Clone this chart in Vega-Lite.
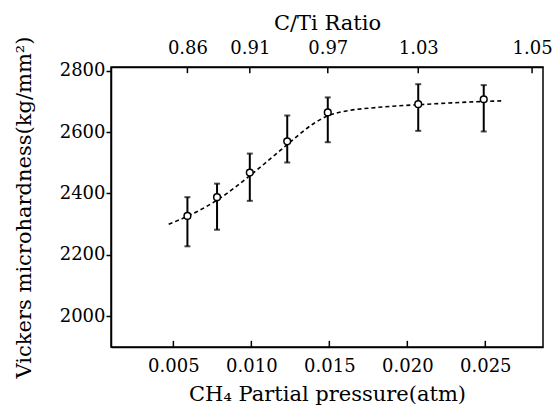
{
  "$schema": "https://vega.github.io/schema/vega-lite/v6.json",
  "width": 432,
  "height": 280,
  "autosize": {"type": "none"},
  "padding": {"left": 111, "top": 67, "right": 9, "bottom": 59},
  "background": "white",
  "config": {
    "view": {"stroke": "black", "strokeWidth": 1.5},
    "font": "DejaVu Serif",
    "axis": {
      "grid": false,
      "domainColor": "black",
      "domainWidth": 1.5,
      "tickColor": "black",
      "tickWidth": 1.5,
      "labelColor": "black",
      "titleColor": "black",
      "labelFont": "DejaVu Serif",
      "titleFont": "DejaVu Serif",
      "labelFontSize": 18,
      "titleFontSize": 21,
      "titleFontWeight": "normal"
    }
  },
  "datasets": {
    "curve": [
      {"p": 0.0047, "hv": 2300},
      {"p": 0.006, "hv": 2328},
      {"p": 0.008, "hv": 2385},
      {"p": 0.010, "hv": 2462},
      {"p": 0.0115, "hv": 2525},
      {"p": 0.0125, "hv": 2568},
      {"p": 0.014, "hv": 2628},
      {"p": 0.015, "hv": 2655},
      {"p": 0.016, "hv": 2668},
      {"p": 0.018, "hv": 2680},
      {"p": 0.021, "hv": 2690},
      {"p": 0.025, "hv": 2700},
      {"p": 0.0262, "hv": 2702}
    ],
    "pts": [
      {"p": 0.0059, "hv": 2327, "lo": 2228, "hi": 2388},
      {"p": 0.0078, "hv": 2388, "lo": 2282, "hi": 2432},
      {"p": 0.0099, "hv": 2468, "lo": 2376, "hi": 2530},
      {"p": 0.0123, "hv": 2570, "lo": 2501, "hi": 2654},
      {"p": 0.0149, "hv": 2664, "lo": 2567, "hi": 2713},
      {"p": 0.0207, "hv": 2691, "lo": 2604, "hi": 2756},
      {"p": 0.0249, "hv": 2707, "lo": 2602, "hi": 2753}
    ],
    "bottomTicks": [{"t": 0.005}, {"t": 0.01}, {"t": 0.015}, {"t": 0.02}, {"t": 0.025}],
    "topTicks": [{"t": 0.0059}, {"t": 0.0099}, {"t": 0.0149}, {"t": 0.0207}, {"t": 0.028}]
  },
  "resolve": {"axis": {"x": "independent"}},
  "layer": [
    {
      "data": {"name": "curve"},
      "mark": {"type": "line", "color": "black", "strokeWidth": 1.6, "strokeDash": [4, 3], "interpolate": "monotone"},
      "encoding": {
        "x": {
          "field": "p", "type": "quantitative",
          "scale": {"domain": [0.001, 0.0287], "nice": false, "zero": false},
          "axis": {
            "orient": "bottom",
            "values": [0.005, 0.01, 0.015, 0.02, 0.025],
            "format": ".3f",
            "ticks": false,
            "labelPadding": 10,
            "title": "CH₄ Partial pressure(atm)",
            "titlePadding": 8
          }
        },
        "y": {
          "field": "hv", "type": "quantitative",
          "scale": {"domain": [1900, 2812], "nice": false, "zero": false},
          "axis": {
            "values": [2000, 2200, 2400, 2600, 2800],
            "format": "d",
            "tickSize": 5,
            "labelPadding": 1,
            "title": "Vickers microhardness(kg/mm²)",
            "titlePadding": 25
          }
        }
      }
    },
    {
      "data": {"name": "bottomTicks"},
      "mark": {"type": "rule", "color": "black", "strokeWidth": 1.5},
      "encoding": {
        "x": {"field": "t", "type": "quantitative", "axis": null},
        "y": {"datum": 1900, "type": "quantitative"},
        "y2": {"datum": 1920}
      }
    },
    {
      "data": {"name": "topTicks"},
      "mark": {"type": "rule", "color": "black", "strokeWidth": 1.5},
      "encoding": {
        "x": {"field": "t", "type": "quantitative", "axis": null},
        "y": {"datum": 2792, "type": "quantitative"},
        "y2": {"datum": 2812}
      }
    },
    {
      "data": {"name": "pts"},
      "mark": {"type": "rule", "color": "black", "strokeWidth": 2},
      "encoding": {
        "x": {"field": "p", "type": "quantitative", "axis": null},
        "y": {"field": "lo", "type": "quantitative"},
        "y2": {"field": "hi"}
      }
    },
    {
      "data": {"name": "pts"},
      "mark": {"type": "tick", "color": "black", "orient": "horizontal", "size": 6, "thickness": 2},
      "encoding": {
        "x": {"field": "p", "type": "quantitative", "axis": null},
        "y": {"field": "lo", "type": "quantitative"}
      }
    },
    {
      "data": {"name": "pts"},
      "mark": {"type": "tick", "color": "black", "orient": "horizontal", "size": 6, "thickness": 2},
      "encoding": {
        "x": {"field": "p", "type": "quantitative", "axis": null},
        "y": {"field": "hi", "type": "quantitative"}
      }
    },
    {
      "data": {"name": "pts"},
      "mark": {"type": "point", "shape": "circle", "filled": true, "fill": "white", "stroke": "black", "strokeWidth": 1.5, "size": 45, "opacity": 1},
      "encoding": {
        "x": {
          "field": "p", "type": "quantitative",
          "axis": {
            "orient": "top",
            "values": [0.0059, 0.0099, 0.0149, 0.0207, 0.028],
            "labelExpr": "datum.value < 0.007 ? '0.86' : datum.value < 0.012 ? '0.91' : datum.value < 0.017 ? '0.97' : datum.value < 0.024 ? '1.03' : '1.05'",
            "ticks": false,
            "labelPadding": 10,
            "title": "C/Ti Ratio",
            "titlePadding": 6
          }
        },
        "y": {"field": "hv", "type": "quantitative"}
      }
    }
  ]
}
